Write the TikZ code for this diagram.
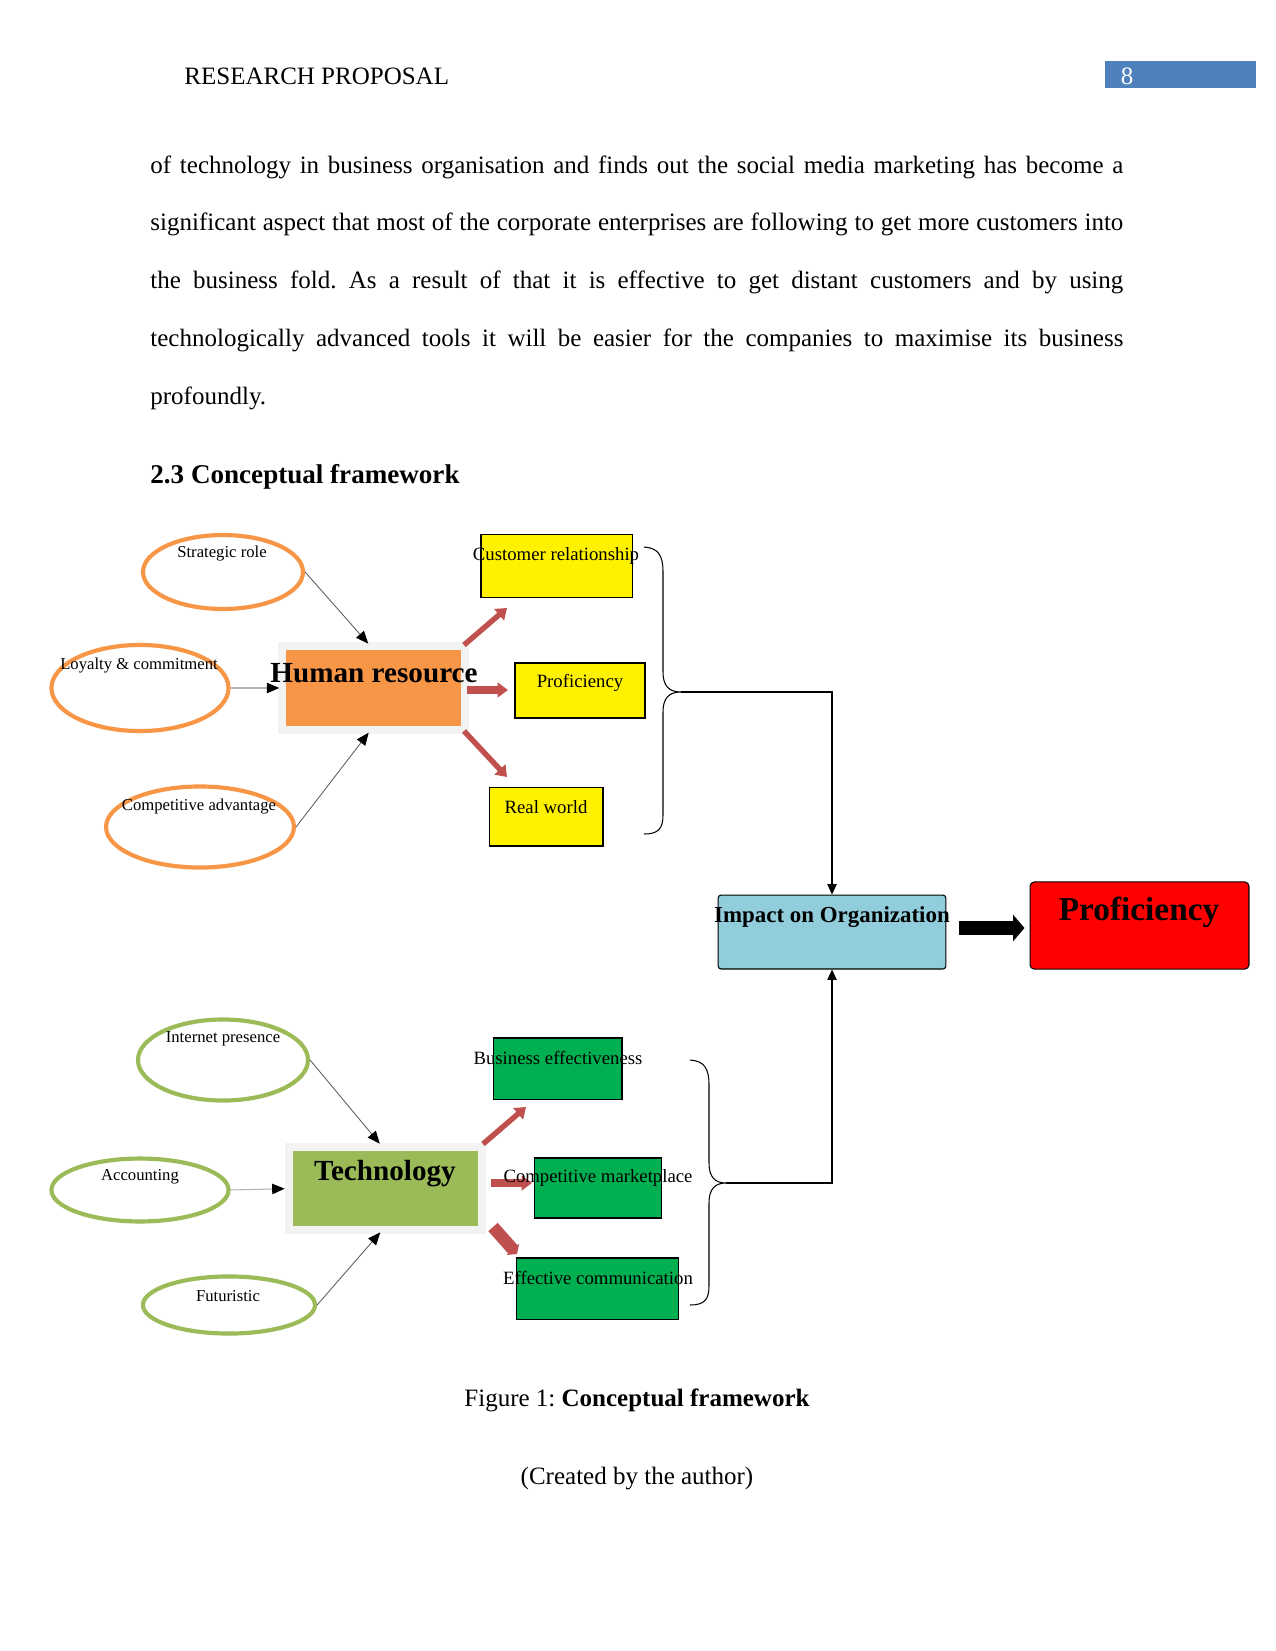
\documentclass[tikz,border=0pt]{standalone}
\usepackage{fontspec}
\setmainfont{Liberation Serif}
\usetikzlibrary{arrows.meta,backgrounds,shapes.geometric}
\definecolor{hrorange}{HTML}{F79646}
\definecolor{techgreen}{HTML}{9BBB59}
\definecolor{boxgreen}{HTML}{00B050}
\definecolor{arrowred}{HTML}{C0504D}
\definecolor{impblue}{HTML}{92CDDC}
\definecolor{pagenum}{HTML}{4F81BD}
\definecolor{glowgray}{HTML}{F3F3F3}
\newcommand{\fsz}[1]{\fontsize{#1}{1.2\dimexpr#1pt\relax}\selectfont}
\frenchspacing
\tikzset{
  txt/.style={inner sep=0pt, font=\fsz{12}},
  bodyline/.style={inner sep=0pt, anchor=base west, font=\fsz{12}},
  oval/.style={ellipse, draw=hrorange, line width=2pt},
  goval/.style={ellipse, draw=techgreen, line width=2pt},
  smalltxt/.style={inner sep=0pt, font=\fsz{8}},
  boxtxt/.style={inner sep=0pt, font=\fsz{9}},
  ybox/.style={rectangle, draw=black, line width=0.5pt, fill=yellow, inner sep=0pt},
  gbox/.style={rectangle, draw=black, line width=0.5pt, fill=boxgreen, inner sep=0pt},
  thinarr/.style={draw=black!65, line width=0.4pt, -{Triangle[length=6pt,width=5pt,color=black]}, shorten >=3.8pt},
  lightarr/.style={draw=black!30, line width=0.5pt, -{Triangle[length=6pt,width=5pt,color=black]}, shorten >=3pt},
  redarr/.style={draw=arrowred, line width=2.6pt, -{Triangle[length=5pt,width=7pt]}},
  bracepath/.style={draw=black, line width=0.5pt},
  linkarr/.style={draw=black, line width=0.5pt, -{Triangle[length=5pt,width=4.5pt]}}
}
\begin{document}
\begin{tikzpicture}[x=0.48pt,y=-0.48pt]
\useasboundingbox (0,0) rectangle (1275,1651);

% header
\node[txt, anchor=west] (header) at (184,76) {RESEARCH PROPOSAL};
\node[rectangle, fill=pagenum, minimum width=72.5pt, minimum height=13pt, inner sep=0pt] (pagebox) at (1180.5,74.5) {};
\node[txt, text=white] (pageno) at (1127,76) {8};

% body text
\node[bodyline] (l1) at (150,174) {\makebox[467pt][s]{of technology in business organisation and finds out the social media marketing has become a}};
\node[bodyline] (l2) at (150,231) {\makebox[467pt][s]{significant aspect that most of the corporate enterprises are following to get more customers into}};
\node[bodyline] (l3) at (150,289) {\makebox[467pt][s]{the business fold. As a result of that it is effective to get distant customers and by using}};
\node[bodyline] (l4) at (150,346) {\makebox[467pt][s]{technologically advanced tools it will be easier for the companies to maximise its business}};
\node[bodyline] (l5) at (150,404) {profoundly.};
\node[bodyline, font=\fsz{13}\bfseries] (heading) at (150,483) {2.3 Conceptual framework};

% ===== Human resource part =====
\node[oval, minimum width=76.8pt, minimum height=35.5pt] (sr) at (223,572) {};
\node[oval, minimum width=85pt, minimum height=41.3pt] (lc) at (140,688) {};
\node[oval, minimum width=90.2pt, minimum height=38.9pt] (ca) at (200,827) {};
\node[smalltxt] (srt) at (222,554) {Strategic role};
\node[smalltxt] (lct) at (139,666) {Loyalty \& commitment};
\node[smalltxt] (cat) at (199,807) {Competitive advantage};

\node[rectangle, fill=hrorange, minimum width=84pt, minimum height=36.5pt, inner sep=0pt] (hr) at (373.5,688) {};
\node[inner sep=0pt, font=\fsz{14}\bfseries] (hrt) at (374,673) {Human resource};

\node[ybox, minimum width=72.5pt, minimum height=29.8pt] (cr) at (556.5,566) {};
\node[ybox, minimum width=62.4pt, minimum height=26.4pt] (pf) at (580,690.5) {};
\node[ybox, minimum width=54.7pt, minimum height=28.3pt] (rw) at (546,816.5) {};
\node[boxtxt] (crt) at (556,556) {Customer relationship};
\node[boxtxt] (pft) at (580,683) {Proficiency};
\node[boxtxt] (rwt) at (546,807) {Real world};

\draw[thinarr] (sr.east) -- (hr.north);
\draw[lightarr] (lc.east) -- (hr.west);
\draw[thinarr] (ca.east) -- (hr.south);

\coordinate (r1s) at (464,645); \coordinate (r1e) at (507,608);
\coordinate (r2s) at (467,690); \coordinate (r2e) at (508,690);
\coordinate (r3s) at (464,731); \coordinate (r3e) at (507,777);
\draw[redarr] (r1s) -- (r1e);
\draw[redarr, line width=3.6pt] (r2s) -- (r2e);
\draw[redarr] (r3s) -- (r3e);

% brace 1
\coordinate (b1top) at (644,547);
\coordinate (b1tip) at (681,692);
\coordinate (b1bot) at (644,834);
\draw[bracepath] (b1top) .. controls (658,548) and (663,555) .. (663,572) -- (663,672)
  .. controls (663,686) and (669,692) .. (b1tip)
  .. controls (669,692) and (663,698) .. (663,712) -- (663,815)
  .. controls (663,829) and (658,834) .. (b1bot);

% ===== Center =====
\node[rectangle, rounded corners=1.5pt, draw=black, line width=0.5pt, fill=impblue, minimum width=109.4pt, minimum height=35.5pt, inner sep=0pt] (imp) at (832,932) {};
\node[inner sep=0pt, font=\fsz{11}\bfseries] (impt) at (832,917) {Impact on Organization};
\node[rectangle, rounded corners=2pt, draw=black, line width=0.5pt, fill=red, minimum width=105.1pt, minimum height=41.8pt, inner sep=0pt] (prof) at (1139.5,925.5) {};
\node[inner sep=0pt, font=\fsz{16}\bfseries] (proft) at (1139,912) {Proficiency};

\draw[linkarr] (b1tip) -| (imp.north);

\draw[black, line width=6.8pt, -{Triangle[length=5.5pt,width=12.5pt]}, shorten <=5.8pt, shorten >=2.4pt] (imp.east |- 0,928) -- (prof.west |- 0,928);

% ===== Technology part =====
\node[goval, minimum width=81.6pt, minimum height=38.9pt] (ip) at (223,1060) {};
\node[goval, minimum width=85pt, minimum height=30.2pt] (ac) at (140,1190) {};
\node[goval, minimum width=82.6pt, minimum height=27.4pt] (fu) at (229,1305) {};
\node[smalltxt] (ipt) at (223,1039) {Internet presence};
\node[smalltxt] (act) at (140,1177) {Accounting};
\node[smalltxt] (fut) at (228,1296) {Futuristic};

\node[rectangle, fill=techgreen, minimum width=88.8pt, minimum height=36pt, inner sep=0pt] (tech) at (385.5,1188.5) {};
\node[inner sep=0pt, font=\fsz{14}\bfseries] (techt) at (385,1174) {Technology};

\draw[thinarr, shorten >=4.3pt] (ip.east) -- (tech.north);
\draw[lightarr, shorten >=3.8pt] (ac.east) -- (tech.west);
\draw[thinarr] (fu.east) -- (tech.south);

\coordinate (t1s) at (483,1144); \coordinate (t1e) at (526,1107);
\coordinate (t2s) at (491,1183); \coordinate (t2e) at (532,1183);
\coordinate (t3s) at (493,1227); \coordinate (t3e) at (517,1254);
\draw[redarr] (t1s) -- (t1e);
\draw[redarr, line width=3.6pt] (t2s) -- (t2e);
\draw[redarr, line width=6pt, -{Triangle[length=3pt,width=8pt]}] (t3s) -- (t3e);

\node[gbox, minimum width=61.9pt, minimum height=29.3pt] (be) at (557.5,1068.5) {};
\node[gbox, minimum width=61.4pt, minimum height=28.8pt] (cm) at (598,1188) {};
\node[gbox, minimum width=78.2pt, minimum height=29.3pt] (ec) at (597.5,1288.5) {};
\node[boxtxt] (bet) at (558,1058) {Business effectiveness};
\node[boxtxt] (cmt) at (598,1178) {Competitive marketplace};
\node[boxtxt] (ect) at (598,1278) {Effective communication};

% brace 2
\coordinate (b2top) at (690,1060);
\coordinate (b2tip) at (726,1183);
\coordinate (b2bot) at (690,1305);
\draw[bracepath] (b2top) .. controls (704,1061) and (709,1068) .. (709,1085) -- (709,1163)
  .. controls (709,1177) and (715,1183) .. (b2tip)
  .. controls (715,1183) and (709,1189) .. (709,1203) -- (709,1286)
  .. controls (709,1300) and (704,1305) .. (b2bot);

\draw[linkarr] (b2tip) -| (imp.south);

% background and glows
\begin{scope}[on background layer]
\fill[white] (0,0) rectangle (1275,1651);
\fill[glowgray] ([shift={(-8,-8)}]hr.north west) rectangle ([shift={(8,8)}]hr.south east);
\fill[glowgray] ([shift={(-8,-8)}]tech.north west) rectangle ([shift={(8,8)}]tech.south east);
\end{scope}

% caption
\node[txt] (cap) at (637,1400) {Figure 1: \textbf{Conceptual framework}};
\node[txt] (credit) at (637,1479) {(Created by the author)};
\end{tikzpicture}
\end{document}
